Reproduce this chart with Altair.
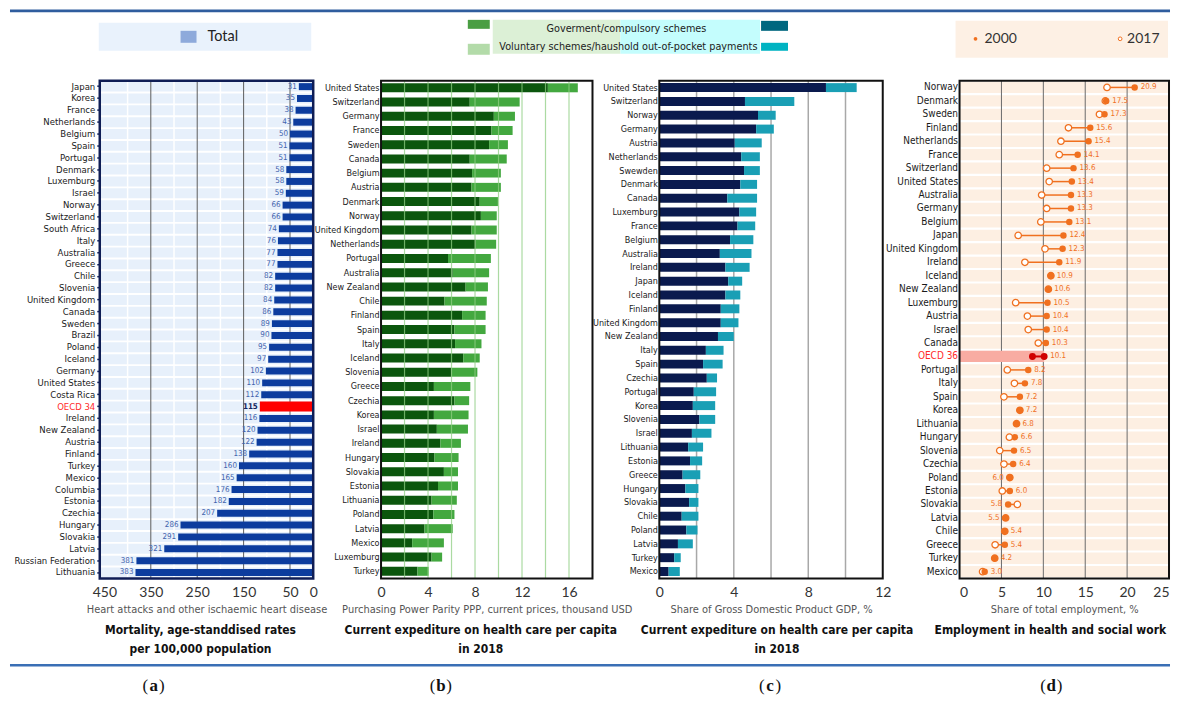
import altair as alt
import pandas as pd

NARROW = "DejaVu Sans Condensed, Liberation Sans Narrow, sans-serif"
SANS = "Lato, Carlito, Liberation Sans, sans-serif"
SERIF = "Liberation Serif, DejaVu Serif, serif"

# ---------------- data ----------------
a_countries = ["Japan", "Korea", "France", "Netherlands", "Belgium", "Spain", "Portugal", "Denmark",
               "Luxemburg", "Israel", "Norway", "Switzerland", "South Africa", "Italy", "Australia",
               "Greece", "Chile", "Slovenia", "United Kingdom", "Canada", "Sweden", "Brazil", "Poland",
               "Iceland", "Germany", "United States", "Costa Rica", "OECD 34", "Ireland", "New Zealand",
               "Austria", "Finland", "Turkey", "Mexico", "Columbia", "Estonia", "Czechia", "Hungary",
               "Slovakia", "Latvia", "Russian Federation", "Lithuania"]
a_values = [31, 35, 38, 43, 50, 51, 51, 58, 58, 59, 66, 66, 74, 76, 77, 77, 82, 82, 84, 86, 89, 90, 95,
            97, 102, 110, 112, 115, 116, 120, 122, 138, 160, 165, 176, 182, 207, 286, 291, 321, 381, 383]
a_major_grid = [50, 150, 250, 350]
a_minor_grid = [100, 200, 300, 400]
a_ticks = [450, 350, 250, 150, 50, 0]

b_countries = ["United States", "Switzerland", "Germany", "France", "Sweden", "Canada", "Belgium",
               "Austria", "Denmark", "Norway", "United Kingdom", "Netherlands", "Portugal", "Australia",
               "New Zealand", "Chile", "Finland", "Spain", "Italy", "Iceland", "Slovenia", "Greece",
               "Czechia", "Korea", "Israel", "Ireland", "Hungary", "Slovakia", "Estonia", "Lithuania",
               "Poland", "Latvia", "Mexico", "Luxemburg", "Turkey"]
b_gov = [14.2, 7.55, 9.6, 9.4, 9.2, 7.55, 7.75, 7.7, 8.4, 8.5, 7.7, 8.05, 5.7, 6.1, 7.2, 5.4, 6.9,
         6.25, 6.3, 7.0, 6.0, 4.5, 6.25, 4.5, 4.75, 5.05, 4.55, 5.35, 4.85, 4.3, 4.45, 3.7, 2.65, 4.3, 3.1]
b_total = [16.75, 11.8, 11.4, 11.2, 10.8, 10.7, 10.2, 10.2, 9.95, 9.85, 9.85, 9.8, 9.35, 9.2, 9.1, 9.0,
           8.9, 8.9, 8.55, 8.4, 8.2, 7.6, 7.5, 7.45, 7.4, 6.8, 6.6, 6.55, 6.55, 6.45, 6.25, 6.1, 5.35,
           5.2, 4.05]
b_ticks = [0, 2, 4, 6, 8, 10, 12, 14, 16, 18]
b_grid = [2, 4, 6, 8, 10, 12, 14, 16]

c_countries = ["United States", "Switzerland", "Norway", "Germany", "Austria", "Netherlands", "Swewden",
               "Denmark", "Canada", "Luxemburg", "France", "Belgium", "Australia", "Ireland", "Japan",
               "Iceland", "Finland", "United Kingdom", "New Zealand", "Italy", "Spain", "Czechia",
               "Portugal", "Korea", "Slovenia", "Israel", "Lithuania", "Estonia", "Greece", "Hungary",
               "Slovakia", "Chile", "Poland", "Latvia", "Turkey", "Mexico"]
c_gov = [8.95, 4.6, 5.3, 5.2, 4.05, 4.4, 4.55, 4.35, 3.65, 4.3, 4.2, 3.8, 3.25, 3.55, 3.7, 3.55, 3.3,
         3.3, 3.15, 2.5, 2.35, 2.55, 1.85, 1.8, 2.15, 1.75, 1.55, 1.65, 1.25, 1.4, 1.6, 1.2, 1.45, 1.0,
         0.8, 0.5]
c_total = [10.6, 7.25, 6.25, 6.15, 5.5, 5.4, 5.4, 5.25, 5.25, 5.2, 5.15, 5.05, 4.95, 4.85, 4.45, 4.35,
           4.3, 4.25, 4.0, 3.45, 3.4, 3.1, 3.05, 3.0, 3.0, 2.8, 2.35, 2.3, 2.2, 2.1, 2.1, 2.1, 2.05, 1.8,
           1.15, 1.1]
c_ticks = [0, 2, 4, 6, 8, 10, 12]
c_grid = [2, 4, 6, 8, 10]

d_countries = ["Norway", "Denmark", "Sweden", "Finland", "Netherlands", "France", "Switzerland",
               "United States", "Australia", "Germany", "Belgium", "Japan", "United Kingdom", "Ireland",
               "Iceland", "New Zealand", "Luxemburg", "Austria", "Israel", "Canada", "OECD 36", "Portugal",
               "Italy", "Spain", "Korea", "Lithuania", "Hungary", "Slovenia", "Czechia", "Poland",
               "Estonia", "Slovakia", "Latvia", "Chile", "Greece", "Turkey", "Mexico"]
d_2000 = [20.9, 17.5, 17.3, 15.6, 15.4, 14.1, 13.6, 13.4, 13.3, 13.3, 13.1, 12.4, 12.3, 11.9, 10.9, 10.6,
          10.5, 10.4, 10.4, 10.3, 10.1, 8.2, 7.8, 7.2, 7.2, 6.8, 6.6, 6.5, 6.4, 6.0, 6.0, 5.8, 5.5, 5.4,
          5.4, 4.2, 3.0]
d_2017 = [17.6, 17.4, 16.7, 13.0, 12.1, 11.9, 10.4, 10.7, 9.8, 10.4, 9.7, 7.0, 10.2, 7.8, 10.9, 10.6,
          6.7, 8.1, 8.2, 9.4, 8.7, 5.7, 6.55, 5.3, 7.2, 6.8, 5.95, 4.8, 5.3, 6.0, 5.1, 6.9, 5.5, 5.4,
          4.25, 4.2, 2.75]
d_label_side = ["r"] * 29 + ["l", "r", "l", "l", "r", "r", "r", "r"]
d_ticks = [0, 5, 10, 15, 20, 25]
d_grid = [5, 10, 15, 20]

# ---------------- helpers (decorations) ----------------
H = 499
one = alt.Data(values=[{"k": 1}])


def deco_rule(x, x2, y, y2, color, w):
    return alt.Chart(one).mark_rule(color=color, strokeWidth=w).encode(
        x=alt.value(x), x2=alt.value(x2), y=alt.value(y), y2=alt.value(y2))


def deco_rect(x, x2, y, y2, color):
    return alt.Chart(one).mark_rect(color=color).encode(
        x=alt.value(x), x2=alt.value(x2), y=alt.value(y), y2=alt.value(y2))


def deco_text(x, y, s, **kw):
    return alt.Chart(one).mark_text(**kw).encode(x=alt.value(x), y=alt.value(y), text=alt.value(s))


def frame(scale, lo, hi, color, w):
    return alt.Chart(one).transform_calculate(lo=str(lo), hi=str(hi)).mark_rect(
        fillOpacity=0, stroke=color, strokeWidth=w).encode(
        x=alt.X("lo:Q", scale=scale), x2="hi:Q", y=alt.value(0), y2=alt.value(H))


def tag(xc, letter):
    y = 607
    kw = dict(baseline="middle", font=SERIF, fontSize=17, color="#111")
    return [deco_text(xc - 5.5, y, "(", align="right", **kw),
            deco_text(xc, y, letter, align="center", fontWeight="bold", **kw),
            deco_text(xc + 5.5, y, ")", align="left", **kw)]


def bold_title(xc, lines, size=12):
    out = []
    for i, s in enumerate(lines):
        out.append(deco_text(xc, 551 + 19 * i, s, align="center", baseline="middle", font=NARROW,
                             fontSize=size, fontWeight="bold", color="#111"))
    return out


def x_axis(values, title, flush=False):
    return alt.Axis(values=values, title=title, grid=False, domain=False, ticks=False,
                    labelFont=SANS, labelFontSize=14, labelColor="#333", labelPadding=7,
                    labelFlush=flush, titleFont=NARROW, titleFontSize=11, titleFontWeight="normal",
                    titleColor="#555", titlePadding=4)


def y_axis(offset, size, oecd_name=None, ticks=False, tick_color="#222", limit=86):
    kw = {}
    if oecd_name:
        kw["labelColor"] = {"expr": f"datum.value == '{oecd_name}' ? '#ff2a2a' : '#1a1a1a'"}
    else:
        kw["labelColor"] = "#1a1a1a"
    return alt.Axis(title=None, domain=False, ticks=ticks, tickSize=3, tickWidth=1.5,
                    tickColor=tick_color, labelFont=NARROW, labelFontSize=size,
                    labelPadding=2, labelLimit=limit, offset=offset, **kw)


# ---------------- panel (a) ----------------
dfa = pd.DataFrame({"country": a_countries, "value": a_values})
dfa["grp"] = ["oecd" if c.startswith("OECD") else "c" for c in a_countries]
xa = alt.Scale(domain=[0, 460], reverse=True, nice=False)
ya = alt.Y("country:N", sort=a_countries, scale=alt.Scale(paddingInner=0.16, paddingOuter=0.08),
           axis=y_axis(0, 9.5, "OECD 34", True, "#14245c"))

pa_layers = [
    alt.Chart(dfa).transform_calculate(lo="0", hi="460").mark_bar(color="#e7f0fb").encode(
        y=ya, x=alt.X("lo:Q", scale=xa), x2="hi:Q"),
    alt.Chart(pd.DataFrame({"v": a_minor_grid})).mark_rule(color="white", strokeWidth=1.5).encode(
        x=alt.X("v:Q", scale=xa)),
    alt.Chart(pd.DataFrame({"v": a_major_grid})).mark_rule(color="#5c5c5c", strokeWidth=1).encode(
        x=alt.X("v:Q", scale=xa)),
    alt.Chart(dfa).transform_filter("datum.grp == 'c'").mark_bar(size=7, color="#0c3c9e").encode(
        y=ya, x=alt.X("value:Q", scale=xa,
                      axis=x_axis(a_ticks, "Heart attacks and other ischaemic heart disease"))),
    alt.Chart(dfa).transform_filter("datum.grp == 'oecd'").mark_bar(size=10, color="#ff0000").encode(
        y=ya, x=alt.X("value:Q", scale=xa)),
    alt.Chart(dfa).transform_filter("datum.grp == 'c'").mark_text(
        align="right", baseline="middle", dx=-2, font=NARROW, fontSize=8, color="#4263ad").encode(
        y=ya, x=alt.X("value:Q", scale=xa), text="value:Q"),
    alt.Chart(dfa).transform_filter("datum.grp == 'oecd'").mark_text(
        align="right", baseline="middle", dx=-2, font=NARROW, fontSize=8, fontWeight="bold",
        color="#14245c").encode(y=ya, x=alt.X("value:Q", scale=xa), text="value:Q"),
    frame(xa, 0, 460, "#0f1d55", 2.5),
    # page frame lines
    deco_rule(-90, 1073, -70, -70, "#2f5d9e", 3),
    deco_rule(-90, 1073, 586, 586, "#3a6fb5", 2.5),
    # legend (a)
    deco_rect(-1, 212, -58, -30, "#e9f2fc"),
    deco_rect(81, 97, -50, -38, "#8eaadb"),
    deco_text(108, -44, "Total", align="left", baseline="middle", font=SANS, fontSize=14.5,
              color="#222"),
] + bold_title(101, ["Mortality, age-standdised rates", "per 100,000 population"]) + tag(54, "a")

pa = alt.layer(*pa_layers).properties(width=214, height=H)

# ---------------- panel (b) ----------------
Lb, wb = 3, 212
dfb = pd.DataFrame({"country": b_countries, "gov": b_gov, "total": b_total})
xb = alt.Scale(domain=[0, 18], range=[Lb, Lb + wb], nice=False)
yb = alt.Y("country:N", sort=b_countries, scale=alt.Scale(paddingInner=0.3, paddingOuter=0.15),
           axis=y_axis(-Lb, 9))

pb_layers = [
    alt.Chart(dfb).mark_bar(size=9, color="#0b560d").encode(
        y=yb, x=alt.X("gov:Q", scale=xb,
                      axis=x_axis(b_ticks, "Purchasing Power Parity PPP, current prices, thousand USD"))),
    alt.Chart(dfb).mark_bar(size=9, color="#43a83f").encode(
        y=yb, x=alt.X("gov:Q", scale=xb), x2="total:Q"),
    alt.Chart(pd.DataFrame({"v": b_grid})).mark_rule(color="#8fcd83", strokeWidth=1.2, opacity=0.75).encode(
        x=alt.X("v:Q", scale=xb)),
    frame(xb, 0, 18, "#111", 2),
    # legend (b)/(c)
    deco_rect(115, 243, -61, -27, "#dcf0d6"),
    deco_rect(243, 383, -61, -27, "#c4fdfd"),
    deco_rect(90, 112, -61, -52, "#4a9e43"),
    deco_rect(90, 112, -37, -26, "#b3dba9"),
    deco_rect(384, 411, -60, -50, "#00677f"),
    deco_rect(384, 411, -38, -30, "#00b3c2"),
    deco_text(249, -52, "Goverment/compulsory schemes", align="center", baseline="middle",
              font=NARROW, fontSize=10.8, color="#222"),
    deco_text(251, -34, "Voluntary schemes/haushold out-of-pocket payments", align="center",
              baseline="middle", font=NARROW, fontSize=10.8, color="#222"),
] + bold_title(103, ["Current expediture on health care per capita", "in 2018"]) + tag(63, "b")

pb = alt.layer(*pb_layers).properties(width=Lb + wb, height=H)

# ---------------- panel (c) ----------------
Lc, wc = 2, 224
dfc = pd.DataFrame({"country": c_countries, "gov": c_gov, "total": c_total})
xc = alt.Scale(domain=[0, 12], range=[Lc, Lc + wc], nice=False)
yc = alt.Y("country:N", sort=c_countries, scale=alt.Scale(paddingInner=0.3, paddingOuter=0.15),
           axis=y_axis(-Lc, 9))

pc_layers = [
    alt.Chart(pd.DataFrame({"v": c_grid})).mark_rule(color="#a8a8a8", strokeWidth=1.5).encode(
        x=alt.X("v:Q", scale=xc)),
    alt.Chart(dfc).mark_bar(size=9, color="#0a1a4e").encode(
        y=yc, x=alt.X("gov:Q", scale=xc,
                      axis=x_axis(c_ticks, "Share of Gross Domestic Product GDP, %"))),
    alt.Chart(dfc).mark_bar(size=9, color="#1a9fb5").encode(
        y=yc, x=alt.X("gov:Q", scale=xc), x2="total:Q"),
    frame(xc, 0, 12, "#111", 2),
] + bold_title(120, ["Current expediture on health care per capita", "in 2018"]) + tag(113, "c")

pc = alt.layer(*pc_layers).properties(width=Lc + wc, height=H)

# ---------------- panel (d) ----------------
Ld, wd = 12, 210
ORANGE = "#f0701f"
dfd = pd.DataFrame({"country": d_countries, "v2000": d_2000, "v2017": d_2017, "side": d_label_side})
dfd["grp"] = ["oecd" if c.startswith("OECD") else "c" for c in d_countries]
xd = alt.Scale(domain=[0, 25], range=[Ld, Ld + wd], nice=False)
yd = alt.Y("country:N", sort=d_countries, scale=alt.Scale(paddingInner=0.16, paddingOuter=0.08),
           axis=y_axis(-Ld, 10, "OECD 36"))
normal = "datum.grp == 'c'"
oecd = "datum.grp == 'oecd'"

pd_layers = [
    alt.Chart(dfd).transform_calculate(lo="0", hi="25").mark_bar(color="#fdefe2").encode(
        y=yd, x=alt.X("lo:Q", scale=xd), x2="hi:Q"),
    alt.Chart(pd.DataFrame({"v": d_grid})).mark_rule(color="#6a6a6a", strokeWidth=1).encode(
        x=alt.X("v:Q", scale=xd, axis=x_axis(d_ticks, "Share of total employment, %", flush=True))),
    alt.Chart(dfd).transform_filter(oecd).transform_calculate(lo="0").mark_bar(color="#f8aca2").encode(
        y=yd, x=alt.X("lo:Q", scale=xd), x2="v2000:Q"),
    alt.Chart(dfd).transform_filter(normal).mark_rule(color=ORANGE, strokeWidth=1.5).encode(
        y=yd, x=alt.X("v2017:Q", scale=xd), x2="v2000:Q"),
    alt.Chart(dfd).transform_filter(oecd).mark_rule(color="#d00000", strokeWidth=2).encode(
        y=yd, x=alt.X("v2017:Q", scale=xd), x2="v2000:Q"),
    alt.Chart(dfd).transform_filter(normal).mark_point(
        shape="circle", filled=True, fill="white", stroke=ORANGE, strokeWidth=1.3, size=42,
        opacity=1).encode(y=yd, x=alt.X("v2017:Q", scale=xd)),
    alt.Chart(dfd).transform_filter(normal).mark_circle(color=ORANGE, size=42, opacity=1).encode(
        y=yd, x=alt.X("v2000:Q", scale=xd)),
    alt.Chart(dfd).transform_filter(oecd).mark_circle(color="#d00000", size=48, opacity=1).encode(
        y=yd, x=alt.X("v2017:Q", scale=xd)),
    alt.Chart(dfd).transform_filter(oecd).mark_circle(color="#d00000", size=48, opacity=1).encode(
        y=yd, x=alt.X("v2000:Q", scale=xd)),
    alt.Chart(dfd).transform_filter("datum.side == 'r'").mark_text(
        align="left", baseline="middle", dx=6, font=NARROW, fontSize=8, color=ORANGE).encode(
        y=yd, x=alt.X("v2000:Q", scale=xd), text=alt.Text("v2000:Q", format=".1f")),
    alt.Chart(dfd).transform_filter("datum.side == 'l'").mark_text(
        align="right", baseline="middle", dx=-6, font=NARROW, fontSize=8, color=ORANGE).encode(
        y=yd, x=alt.X("v2000:Q", scale=xd), text=alt.Text("v2000:Q", format=".1f")),
    frame(xd, 0, 25, "#111", 2),
    # legend (d)
    deco_rect(8, 221, -60, -23, "#fdf0e4"),
    alt.Chart(one).mark_circle(color=ORANGE, size=14, opacity=1).encode(
        x=alt.value(28), y=alt.value(-42)),
    deco_text(37, -42, "2000", align="left", baseline="middle", font=SANS, fontSize=14, color="#333"),
    alt.Chart(one).mark_point(shape="circle", filled=True, fill="white", stroke=ORANGE, strokeWidth=1,
                              size=14, opacity=1).encode(x=alt.value(173), y=alt.value(-42)),
    deco_text(180, -42, "2017", align="left", baseline="middle", font=SANS, fontSize=14, color="#333"),
] + bold_title(103, ["Employment in health and social work"]) + tag(104, "d")

pdd = alt.layer(*pd_layers).properties(width=Ld + wd, height=H)

chart = alt.hconcat(pa, pb, pc, pdd, spacing=65, bounds="flush").properties(
    padding=0, background="white").configure_view(strokeWidth=0)

chart.save("out.html", embed_options={"renderer": "svg", "actions": False})
